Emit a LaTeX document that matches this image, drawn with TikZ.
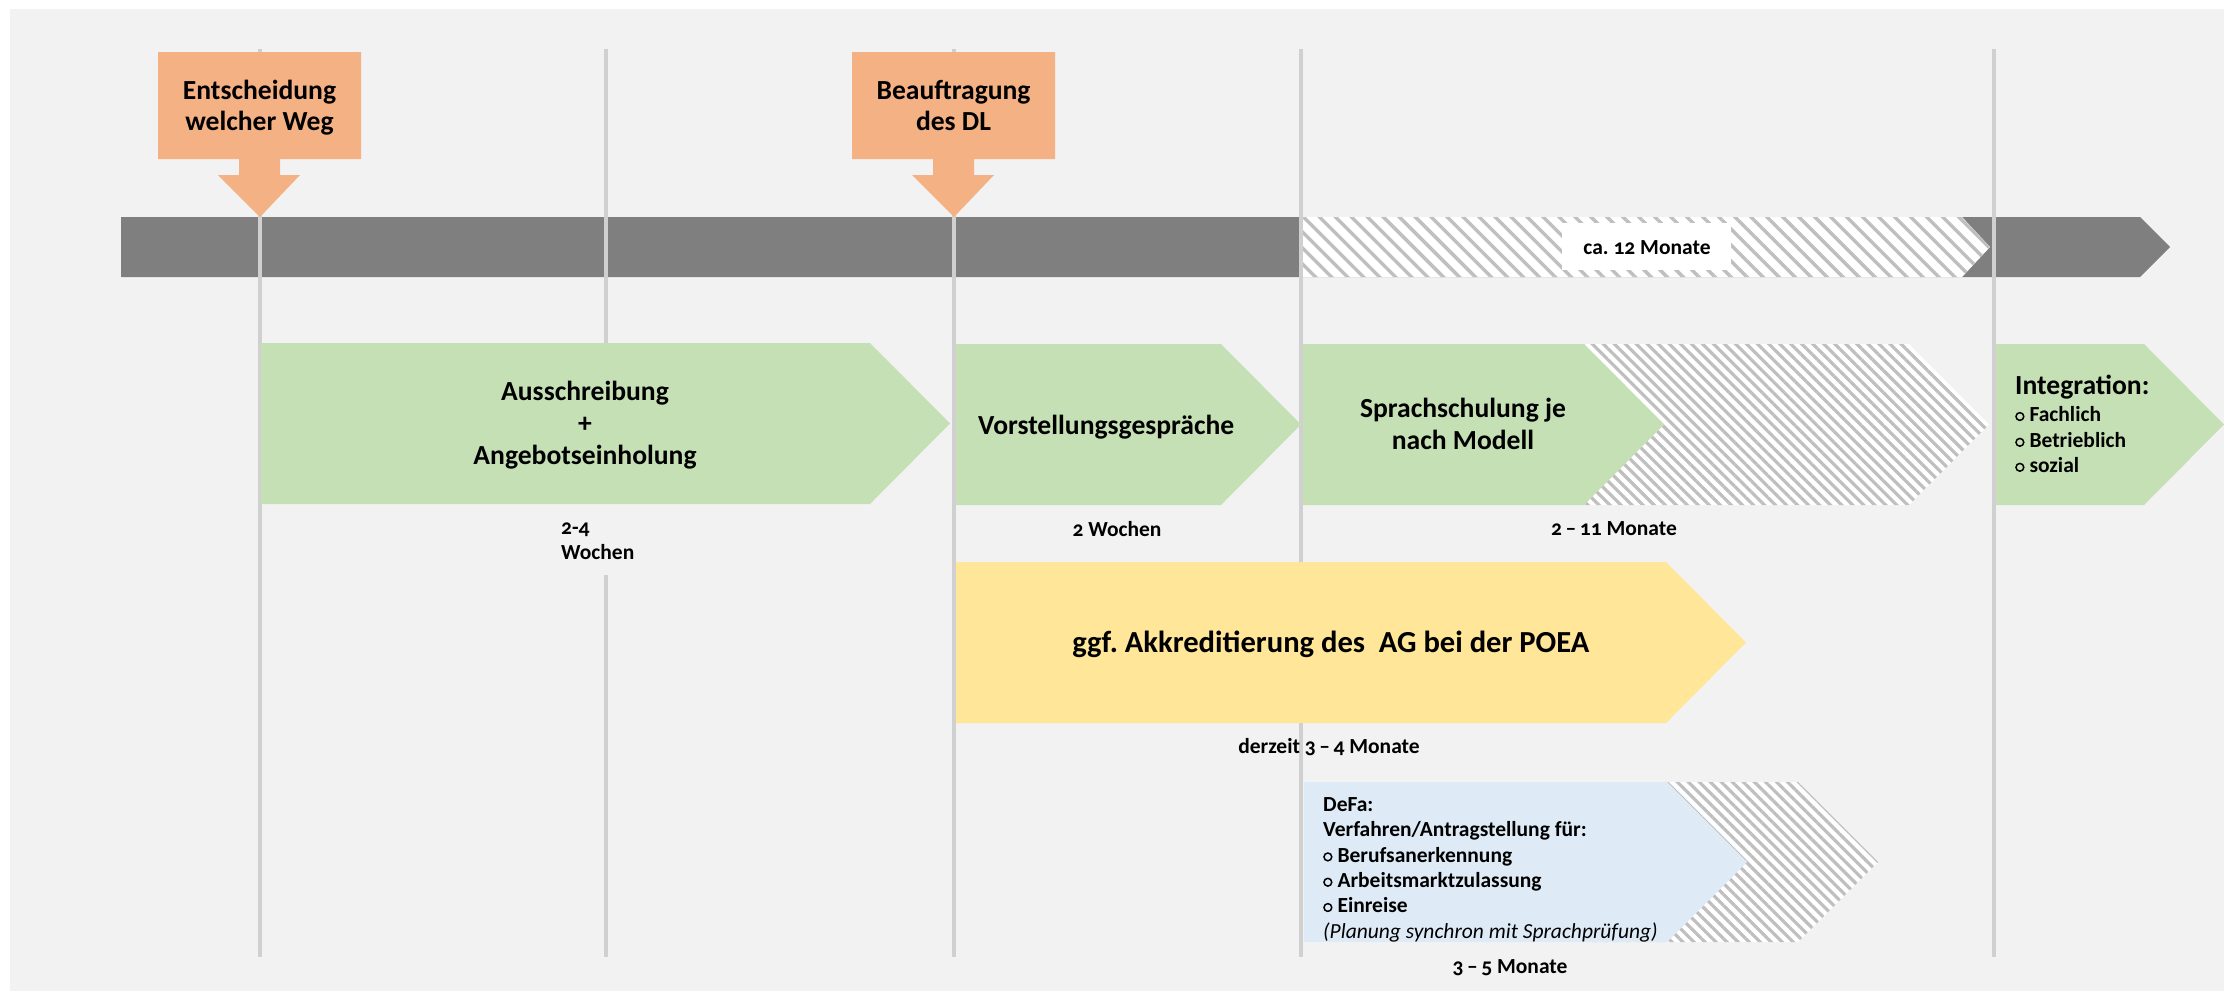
\documentclass[tikz,border=0pt]{standalone}
\usepackage{fontspec}
\setmainfont{Carlito}[Numbers=OldStyle]
\frenchspacing
\usetikzlibrary{patterns.meta}
\definecolor{bgc}{HTML}{F2F2F2}
\definecolor{barc}{HTML}{7F7F7F}
\definecolor{gridc}{HTML}{D0D0D0}
\definecolor{orangec}{HTML}{F4B183}
\definecolor{greenc}{HTML}{C5E0B4}
\definecolor{yellowc}{HTML}{FFE699}
\definecolor{bluec}{HTML}{DEEBF7}
\definecolor{hatchc}{HTML}{BFBFBF}
\newcommand{\bul}{\tikz[baseline=0pt]\draw[line width=1.5pt,black] (0pt,5.2pt) circle[radius=3.9pt];\hspace{5pt}}
\begin{document}
\begin{tikzpicture}[x=1pt,y=-1pt,
  big/.style={font=\bfseries\fontsize{27.6}{32}\selectfont, inner sep=0pt, text=black},
  huge/.style={font=\bfseries\fontsize{30.6}{36}\selectfont, inner sep=0pt, text=black},
  small/.style={font=\bfseries\fontsize{21.5}{25}\selectfont, inner sep=0pt, text=black},
  smallit/.style={font=\itshape\fontsize{21.5}{25}\selectfont, inner sep=0pt, text=black},
  gridline/.style={draw=gridc, line width=4pt},
  hatchfine/.style={fill=white, postaction={pattern color=hatchc, pattern={Lines[angle=-45,distance=7.8pt,line width=3.2pt]}}},
  hatchwide/.style={fill=white, postaction={pattern color=hatchc, pattern={Lines[angle=-45,distance=11.3pt,line width=3.4pt]}}},
]
\useasboundingbox (0,0) rectangle (2224,991);
\fill[white] (0,0) rectangle (2224,991);
\fill[bgc] (10,9) rectangle (2224,991);

% time bar
\fill[barc] (121,217) -- (2140,217) -- (2170,247) -- (2140,277) -- (121,277) -- cycle;
\path[hatchwide] (1303,217) -- (1962,217) -- (1990,247) -- (1962,277) -- (1303,277) -- cycle;
\fill[white] (1562,223) rectangle (1731,270);
\node[small, anchor=base] (ca12) at (1647,254) {ca. 12 Monate};

% grid lines
\draw[gridline] (260,49) -- (260,957);
\draw[gridline] (606,49) -- (606,343);
\draw[gridline] (606,575) -- (606,957);
\draw[gridline] (954,49) -- (954,957);
\draw[gridline] (1301,49) -- (1301,957);
\draw[gridline] (1994,49) -- (1994,957);

% orange callouts
\fill[orangec] (158,52) -- (361,52) -- (361,159) -- (280,159) -- (280,175) -- (300,175) -- (260,217) -- (218,175) -- (239,175) -- (239,159) -- (158,159) -- cycle;
\fill[orangec] (852,52) -- (1055,52) -- (1055,159) -- (974,159) -- (974,175) -- (994,175) -- (954,217) -- (912,175) -- (933,175) -- (933,159) -- (852,159) -- cycle;
\node[big, anchor=base] (ent1) at (259.5,99.3) {Entscheidung};
\node[big, anchor=base] (ent2) at (259.5,130.7) {welcher Weg};
\node[big, anchor=base] (bea1) at (953.5,99.3) {Beauftragung};
\node[big, anchor=base] (bea2) at (953.5,130.7) {des DL};

% green row
\fill[greenc] (261,343) -- (870,343) -- (950,423.5) -- (870,504) -- (261,504) -- cycle;
\node[big, anchor=base] (aus1) at (585,400) {Ausschreibung};
\node[big, anchor=base] (aus2) at (585,432) {+};
\node[big, anchor=base] (aus3) at (585,464) {Angebotseinholung};
\node[small, anchor=base west] (w24a) at (561,534) {2-4};
\node[small, anchor=base west] (w24b) at (561,559) {Wochen};

\fill[greenc] (956,344) -- (1221,344) -- (1301,424.5) -- (1221,505) -- (956,505) -- cycle;
\node[big, anchor=base west] (vor) at (978,434) {Vorstellungsgespräche};
\node[small, anchor=base] (w2) at (1117,536.7) {2 Wochen};

\path[hatchfine] (1584,344) -- (1909,344) -- (1989,424.5) -- (1909,505) -- (1584,505) -- cycle;
\fill[greenc] (1303,344) -- (1584,344) -- (1664,424.5) -- (1584,505) -- (1303,505) -- cycle;
\node[big, anchor=base] (spr1) at (1463,417.5) {Sprachschulung je};
\node[big, anchor=base] (spr2) at (1463,449) {nach Modell};
\node[small, anchor=base] (m211) at (1614,535) {2\,–\,11 Monate};

\fill[greenc] (1996,344) -- (2144,344) -- (2224,424.5) -- (2144,505) -- (1996,505) -- cycle;
\node[big, anchor=base west] (int0) at (2015,394) {Integration:};
\node[small, anchor=base west] (int1) at (2015,421.7) {\bul Fachlich};
\node[small, anchor=base west] (int2) at (2015,447.5) {\bul Betrieblich};
\node[small, anchor=base west] (int3) at (2015,472.5) {\bul sozial};

% yellow
\fill[yellowc] (956,562) -- (1666,562) -- (1746,642.5) -- (1666,723) -- (956,723) -- cycle;
\node[huge, anchor=base] (poea) at (1331,652.7) {ggf. Akkreditierung des~ AG bei der POEA};
\node[small, anchor=base] (m34) at (1329,753.3) {derzeit 3\,–\,4 Monate};

% blue
\path[hatchfine] (1585,782) -- (1798,782) -- (1878,862) -- (1798,942) -- (1585,942) -- cycle;
\fill[bluec] (1304,782) -- (1667,782) -- (1747,862) -- (1667,942) -- (1304,942) -- cycle;
\node[small, anchor=base west] (defa1) at (1323,811.5) {DeFa:};
\node[small, anchor=base west] (defa2) at (1323,836.8) {Verfahren/Antragstellung für:};
\node[small, anchor=base west] (defa3) at (1323,862.1) {\bul Berufsanerkennung};
\node[small, anchor=base west] (defa4) at (1323,887.4) {\bul Arbeitsmarktzulassung};
\node[small, anchor=base west] (defa5) at (1323,912.7) {\bul Einreise};
\node[smallit, anchor=base west] (defa6) at (1323,938) {(Planung synchron mit Sprachprüfung)};
\node[small, anchor=base] (m35) at (1510,973.3) {3\,–\,5 Monate};
\end{tikzpicture}
\end{document}
